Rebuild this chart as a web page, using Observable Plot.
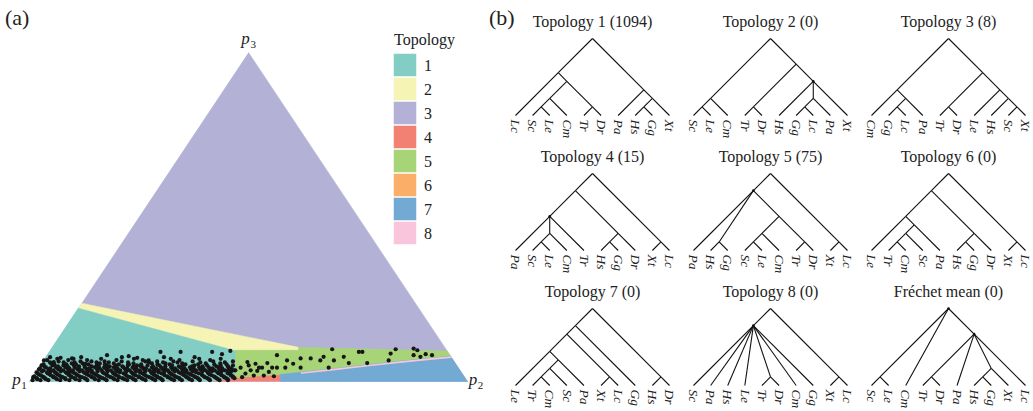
<!DOCTYPE html>
<html><head><meta charset="utf-8">
<script src="https://cdn.jsdelivr.net/npm/d3@7"></script>
<script src="https://cdn.jsdelivr.net/npm/@observablehq/plot@0.6"></script>
<style>
body{margin:0;background:#fff;}
#fig{position:relative;width:1033px;height:411px;overflow:hidden;font-family:"Liberation Serif","Times New Roman",serif;background:#fff;}
#fig svg{position:absolute;}
.tag{position:absolute;font-size:22px;line-height:22px;color:#222;font-family:"Liberation Serif","Times New Roman",serif;}
</style></head><body><div id="fig"></div>
<script>
// ---------- DATA ----------
const topologyIds = ["1","2","3","4","5","6","7","8"];
const topologyColors = ["#82cec4","#f5f4b5","#b3b1d6","#f28174","#a8d478","#faae68","#72aad3","#f8c5dc"];

// ternary regions, vertices given as [p2 %, p3 %] (p1 = 100 - p2 - p3)
const simplex = [[0,0],[100,0],[0,100]];            // topology 3 fills the rest
const regionTopology1 = [[0,0],[0,22.4],[42.3,9.5],[46.4,1.2],[42.0,0]];
const regionTopology2 = [[0,23.8],[56.2,10.4],[56.7,9.5],[42.3,9.5],[0,22.4]];
const regionTopology4 = [[42.0,0],[46.4,1.2],[56.2,2.1],[57.3,0]];
const regionTopology5 = [[42.3,9.5],[56.7,9.5],[56.2,10.4],[90.7,9.3],[92.3,7.7],[88.0,7.1],[81.6,6.2],[74.6,5.1],[67.5,3.9],[60.8,2.9],[56.2,2.1],[46.4,1.2]];
const regionTopology7 = [[56.2,2.1],[60.8,2.9],[67.5,3.9],[74.6,5.1],[81.6,6.2],[88.0,7.1],[92.3,7.7],[100,0],[57.3,0]];
const bandTopology8 = [[60.8,2.6],[67.5,3.6],[74.6,4.8],[81.6,5.9],[88.0,6.8],[92.6,7.4]];

// sampled trees: dense cloud rows (p3 level -> p2 values) and scattered points [p2, p3]
const cloudP3 = [0.4,0.7,1.0,1.3,1.6,1.9,2.2,2.5,2.8,3.1,3.4,3.7,4.0,4.3,4.6,4.9,5.2,5.5,5.8,6.1,6.5,6.9,7.4];
const cloudP2 = [
 [0.5,2.3,4.1,6.8,8.9,11.2,13.0,15.6,17.4,19.9,22.1,24.0,26.3,28.5,30.2,32.8,34.6,36.9,38.7,41.0,43.2,45.1],
 [1.4,3.4,5.9,7.9,10.2,12.6,14.6,16.9,19.0,21.3,23.4,25.6,27.9,29.8,32.1,34.0,36.2,38.3,40.6,42.7,44.9],
 [1.2,3.0,5.5,7.6,9.8,12.1,14.3,16.2,18.6,20.7,23.0,25.1,27.4,29.3,31.6,33.7,35.8,37.9,40.1,42.2,44.4,46.3],
 [0.2,2.6,4.8,6.9,9.0,11.3,13.6,15.5,17.9,19.8,22.3,24.3,26.7,28.6,30.9,33.0,35.2,37.3,39.4,41.7,43.8,45.8],
 [0.3,2.1,4.6,6.3,8.7,10.6,13.2,15.0,17.3,19.5,21.6,24.2,26.0,28.3,30.7,32.4,34.9,36.8,39.0,41.3,43.5,45.6],
 [1.6,3.9,5.8,8.1,10.0,12.6,14.5,16.7,18.9,21.1,23.3,25.5,27.7,29.9,32.0,34.3,36.2,38.5,40.6,42.9,45.0],
 [1.0,3.5,5.2,7.9,9.6,12.0,13.9,16.5,18.4,20.8,22.7,25.0,27.2,29.6,31.3,33.9,35.6,38.2,40.0,42.6,44.8],
 [0.6,2.9,4.9,7.3,9.1,11.5,13.4,15.8,17.9,20.2,22.3,24.5,26.7,28.9,31.0,33.3,35.1,37.4,39.6,41.9,44.0],
 [0.2,2.6,4.4,6.9,8.5,11.0,12.8,15.3,17.6,19.2,21.9,23.8,26.4,28.1,30.5,32.7,34.3,36.6,39.3,41.5,43.9],
 [1.3,3.3,5.6,7.6,9.9,11.8,14.0,16.3,18.4,20.6,22.8,24.9,27.1,29.3,31.6,33.5,35.7,37.9,40.1,42.3,44.5],
 [1.5,3.8,6.0,8.2,10.3,12.5,14.8,16.9,19.0,21.2,23.5,25.7,27.8,29.9,32.0,34.1,36.3,38.5,40.6,42.9,45.0],
 [0.3,2.5,4.7,7.0,9.1,11.2,13.6,15.7,17.8,20.0,22.2,24.3,26.5,28.6,30.8,33.0,35.0,37.1,39.3,41.5,43.6],
 [0.4,2.7,5.0,7.1,9.3,11.6,14.0,15.8,18.1,20.3,22.4,24.6,26.9,29.0,31.2,33.4,35.5,37.7,39.8,42.0,44.1],
 [1.6,3.9,6.1,8.2,10.5,12.8,14.9,17.1,19.3,21.4,23.7,25.8,27.9,30.2,32.3,34.5,36.6,38.8,41.0,43.3],
 [1.1,4.2,6.4,9.0,11.9,13.5,16.0,18.9,21.5,23.1,25.9,28.7,31.8,34.8,37.2,40.4,43.0],
 [0.3,2.8,5.3,7.7,10.1,12.9,15.2,17.3,20.0,22.1,24.5,27.2,30.1,32.6,35.2,38.1,41.2,44.0],
 [0.6,3.1,5.8,8.0,10.9,14.6,17.8,20.1,22.9,26.6,29.4,33.0,35.9,39.6,42.4],
 [2.2,6.9,9.4,13.3,16.5,21.0,25.2,28.3,32.1,37.5,40.8],
 [1.8,4.9,7.4,12.4,15.2,19.6,24.4,27.6,30.9,36.1,41.7],
 [3.6,8.6,11.1,14.1,18.0,23.4,26.1,29.8,34.2,38.9,43.4],
 [0.8,5.6,9.9,16.6,22.6,31.0,38.0],
 [2.9,6.6,12.9,20.4,28.8,35.3,40.2],
 [1.0,8.1,17.4,27.0,34.0]
];
const scatterPoints = [
 [47.6,4.9],[50.3,4.2],[51.5,5.6],[52.5,8.0],[56.3,4.2],[55.6,6.4],[57.5,5.4],[58.4,7.0],[59.8,4.2],[60.7,7.0],
 [63.2,6.4],[63.4,7.5],[66.2,4.2],[64.2,9.8],[66.3,6.4],[68.0,7.5],[70.1,5.6],[70.7,9.0],[71.5,9.0],[74.3,5.6],
 [78.8,6.4],[78.2,8.5],[78.7,9.8],[82.7,10.0],[83.8,9.5],[83.7,8.0],[85.5,7.5],[86.3,8.3],[87.9,8.0],
 [46.1,4.2],[48.1,2.4],[48.8,3.4],[50.3,1.8],[50.4,3.2],[51.0,4.2],[52.6,1.8],[53.2,2.9],[53.3,4.2],[55.0,1.6],
 [46.8,5.9],[48.9,5.4],[45.3,3.4],[47.9,1.3],[54.4,4.2],
 [25.4,9.0],[30.0,9.0],[37.2,9.0],[41.2,9.3],[39.8,8.3],[0.1,6.4],[2.6,5.9],[3.5,7.2],[6.2,7.0],[10.1,5.4],
 [13.7,8.0],[18.8,7.7],[21.0,7.2],[24.0,6.4]
];
const vertexLabels = [
  {name:"p", index:"1", p2:0, p3:0},
  {name:"p", index:"2", p2:100, p3:0},
  {name:"p", index:"3", p2:0, p3:100}
];

// panel (b) trees
const treeNames = ["Topology 1","Topology 2","Topology 3","Topology 4","Topology 5","Topology 6","Topology 7","Topology 8","Fréchet mean"];
const treeCounts = [1094,0,8,15,75,0,0,0,0];
const treeTopologies = [
  [["Lc",[[["Sc","Le"],"Cm"],["Tr","Dr"]]],["Pa",[["Hs","Gg"],"Xt"]]],
  [[["Sc","Le"],"Cm"],[["Tr","Dr"],["Hs",[["Gg","Lc"],"Pa"],"Xt"]]],
  [["Cm",[["Gg","Lc"],"Pa"]],[["Tr","Dr"],["Le",["Hs",["Sc","Xt"]]]]],
  [[["Pa",[["Sc","Le"],"Cm"],"Tr"],[["Hs","Gg"],"Dr"]],["Xt","Lc"]],
  [["Pa",["Hs","Gg"],[[["Sc","Le"],"Cm"],["Tr","Dr"]]],["Xt","Lc"]],
  [[["Le",[[["Tr","Cm"],"Sc"],"Pa"]],[["Hs","Gg"],"Dr"]],["Xt","Lc"]],
  [[[["Le",[[["Tr","Cm"],"Sc"],"Pa"]],["Xt","Lc"]],"Gg"],["Hs","Dr"]],
  [["Sc","Pa","Hs","Le",["Tr","Dr"],"Cm","Gg"],["Xt","Lc"]],
  [["Sc","Le"],"Cm",[["Tr","Dr"],"Pa",[["Hs","Gg"],"Xt"],"Lc"]]
];

// ---------- HELPERS ----------
const serif = '"Liberation Serif", "Times New Roman", serif';
const tern = ([p2,p3]) => ({u:(p2 + p3/2)/100, v:p3/100});
const colorOf = id => topologyColors[topologyIds.indexOf(id)];
const fig = document.getElementById("fig");
function place(el, left, top){ el.style.left = left + "px"; el.style.top = top + "px"; fig.appendChild(el); }
const plotStyle = {background:"transparent", fontFamily:serif, position:"absolute"};

// ---------- PANEL (a) ----------
const polygon = (pts, id) => Plot.line(pts.map(tern), {x:"u", y:"v", fill:colorOf(id), stroke:colorOf(id), strokeWidth:0.5, curve:"linear"});
const points = [];
cloudP3.forEach((p3,i) => cloudP2[i].forEach(p2 => points.push(tern([p2,p3]))));
scatterPoints.forEach(p => points.push(tern(p)));
const verts = vertexLabels.map(d => ({...d, ...tern([d.p2,d.p3])}));
const labelOffsets = {"1":{px:-13,py:-2.4,sx:-5.5,sy:3.5},"2":{px:5.5,py:-2.4,sx:13,sy:3.5},"3":{px:-3,py:-14.4,sx:4.7,sy:-8.5}};
const vertexMarks = [];
verts.forEach(d => {
  const o = labelOffsets[d.index];
  vertexMarks.push(Plot.text([d], {x:"u", y:"v", text:"name", dx:o.px, dy:o.py, fontStyle:"italic", fontSize:17, fontFamily:serif, fill:"#222"}));
  vertexMarks.push(Plot.text([d], {x:"u", y:"v", text:"index", dx:o.sx, dy:o.sy, fontSize:11, fontFamily:serif, fill:"#222"}));
});

const panelA = Plot.plot({
  width:490, height:411, marginLeft:29, marginRight:23, marginTop:52, marginBottom:30,
  x:{domain:[0,1], axis:null}, y:{domain:[0,1], axis:null},
  style:plotStyle,
  marks:[
    polygon(simplex,"3"),
    polygon(regionTopology1,"1"),
    polygon(regionTopology2,"2"),
    polygon(regionTopology4,"4"),
    polygon(regionTopology5,"5"),
    polygon(regionTopology7,"7"),
    Plot.line(bandTopology8.map(tern), {x:"u", y:"v", stroke:colorOf("8"), strokeWidth:1.6}),
    Plot.dot(points, {x:"u", y:"v", r:2.1, fill:"#161616", stroke:"none"}),
    ...vertexMarks
  ]
});
place(panelA, 0, 0);

const legend = Plot.plot({
  width:490, height:411, marginLeft:392.5, marginRight:73.5, marginTop:52.5, marginBottom:166,
  x:{domain:["swatch"], axis:null, padding:0}, y:{domain:topologyIds, axis:null, padding:0},
  color:{type:"ordinal", domain:topologyIds, range:topologyColors},
  style:plotStyle,
  marks:[
    Plot.cell(topologyIds, {x:()=>"swatch", y:d=>d, fill:d=>d, inset:0.75}),
    Plot.text(topologyIds, {x:()=>"swatch", y:d=>d, text:d=>d, dx:22.5, fontSize:16, fontFamily:serif, fill:"#222"}),
    Plot.text(["Topology"], {x:()=>"swatch", y:()=>topologyIds[0], text:d=>d, dx:-11.5, dy:-25.5, textAnchor:"start", fontSize:16, fontFamily:serif, fill:"#222"})
  ]
});
place(legend, 0, 0);

// ---------- PANEL (b) ----------
const edges = [], leaves = [], titles = [], multi = [];
treeTopologies.forEach((tree, k) => {
  const col = k % 3, row = Math.floor(k / 3);
  let i = 0;
  function rec(t){
    if (typeof t === "string"){ const n = {x:i, y:0, lo:i, hi:i, name:t, col, row}; i++; leaves.push(n); return n; }
    const kids = t.map(rec);
    const lo = kids[0].lo, hi = kids[kids.length-1].hi;
    const n = {x:(lo+hi)/2, y:(hi-lo)/2, lo, hi, col, row};
    kids.forEach(c => edges.push({x1:n.x, y1:n.y, x2:c.x, y2:c.y, col, row}));
    if (kids.length > 2) multi.push(n);
    return n;
  }
  const root = rec(tree);
  titles.push({x:root.x, y:root.y, col, row, text:`${treeNames[k]} (${treeCounts[k]})`});
});

const panelB = Plot.plot({
  width:543, height:411, marginLeft:24, marginRight:8, marginTop:37.6, marginBottom:26,
  x:{domain:[0,9], axis:null}, y:{domain:[0,4.5], axis:null},
  fx:{domain:[0,1,2], axis:null, paddingInner:0.137, paddingOuter:0},
  fy:{domain:[0,1,2], axis:null, paddingInner:0.4267, paddingOuter:0},
  style:plotStyle,
  marks:[
    Plot.link(edges, {x1:"x1", y1:"y1", x2:"x2", y2:"y2", fx:"col", fy:"row", stroke:"#111", strokeWidth:1.1}),
    Plot.dot(multi, {x:"x", y:"y", fx:"col", fy:"row", r:1.3, fill:"#111", stroke:"none"}),
    Plot.text(leaves, {x:"x", y:"y", text:"name", fx:"col", fy:"row", rotate:90, textAnchor:"start", dy:4, fontStyle:"italic", fontSize:13.5, fontFamily:serif, fill:"#222"}),
    Plot.text(titles, {x:"x", y:"y", text:"text", fx:"col", fy:"row", dy:-17, fontSize:16, fontFamily:serif, fill:"#222"})
  ]
});
place(panelB, 490, 0);

const ta = document.createElement("div"); ta.className = "tag"; ta.textContent = "(a)"; place(ta, 5, 7);
const tb = document.createElement("div"); tb.className = "tag"; tb.textContent = "(b)"; place(tb, 489, 7);
</script></body></html>
